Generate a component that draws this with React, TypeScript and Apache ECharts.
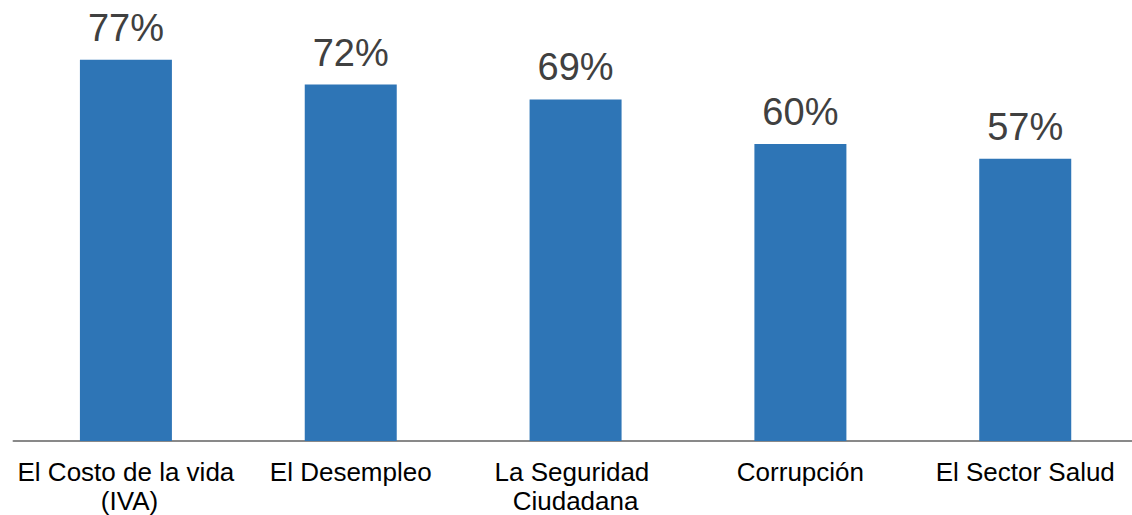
import React, { useEffect, useRef } from "react";
import * as echarts from "echarts";

const categories = [
  "El Costo de la vida (IVA)",
  "El Desempleo",
  "La Seguridad Ciudadana",
  "Corrupción",
  "El Sector Salud",
];
const values = [77, 72, 69, 60, 57];

const FONT = "'Liberation Sans', Arial, sans-serif";

export default function App() {
  const ref = useRef<HTMLDivElement>(null);
  useEffect(() => {
    if (!ref.current) return;
    const chart = echarts.init(ref.current, undefined, { renderer: "svg" });
    chart.setOption({
      animation: false,
      backgroundColor: "#ffffff",
      grid: { left: 13.5, right: 0, top: 45, bottom: 74, containLabel: false },
      xAxis: {
        type: "category",
        data: categories,
        axisLine: { show: true, lineStyle: { color: "#898989", width: 2 } },
        axisTick: { show: false },
        axisLabel: {
          interval: 0,
          margin: 16,
          fontSize: 26,
          lineHeight: 29,
          color: "#000000",
          fontFamily: FONT,
          width: 224,
          overflow: "break",
        },
      },
      yAxis: {
        type: "value",
        min: 0,
        max: 80,
        show: false,
        splitLine: { show: false },
      },
      series: [
        {
          type: "bar",
          data: values,
          barWidth: 92,
          itemStyle: { color: "#2E75B6" },
          label: {
            show: true,
            position: "top",
            distance: 13,
            formatter: "{c}%",
            fontSize: 38,
            color: "#404040",
            fontFamily: FONT,
          },
        },
      ],
    });
    return () => chart.dispose();
  }, []);
  return (
    <div
      ref={ref}
      style={{ position: "fixed", left: 0, top: 0, width: 1140, height: 515 }}
    />
  );
}
